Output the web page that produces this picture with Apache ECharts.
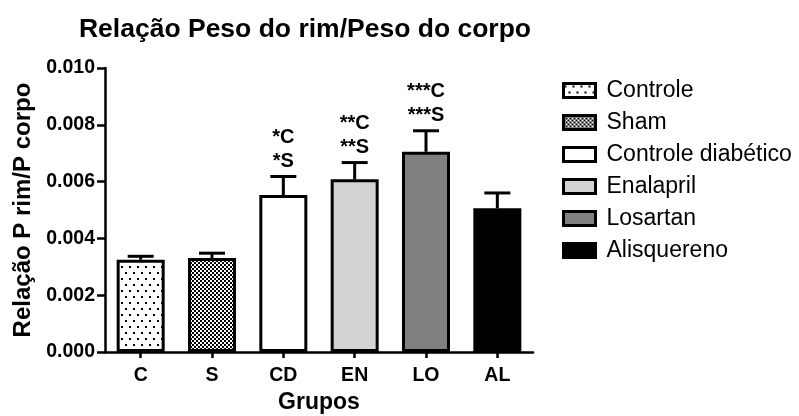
<!DOCTYPE html>
<html>
<head>
<meta charset="utf-8">
<script src="https://cdn.jsdelivr.net/npm/echarts@6/dist/echarts.min.js"></script>
<style>html,body{margin:0;padding:0;background:#fff}#c{width:799px;height:416px}</style>
</head>
<body>
<div id="c"></div>
<script>
var categories = ['C', 'S', 'CD', 'EN', 'LO', 'AL'];
var groupNames = ['Controle', 'Sham', 'Controle diabético', 'Enalapril', 'Losartan', 'Alisquereno'];
var means = [0.00325, 0.00331, 0.00553, 0.00608, 0.00705, 0.00506];
var errors = [0.00012, 0.00017, 0.00065, 0.00059, 0.00074, 0.00054];
var annotTop = ['', '', '*C', '**C', '***C', ''];
var annotBottom = ['', '', '*S', '**S', '***S', ''];
var yTicks = [0, 0.002, 0.004, 0.006, 0.008, 0.010];

var FONT = "'Liberation Sans', Arial, Helvetica, sans-serif";

function dotPattern() {
  var c = document.createElement('canvas');
  c.width = 8; c.height = 12;
  var g = c.getContext('2d');
  g.fillStyle = '#fff'; g.fillRect(0, 0, 8, 12);
  g.fillStyle = '#000';
  g.fillRect(1, 2, 2, 2);
  g.fillRect(5, 8, 2, 2);
  return c;
}
function checkPattern() {
  var c = document.createElement('canvas');
  c.width = 4; c.height = 4;
  var g = c.getContext('2d');
  g.fillStyle = '#fff'; g.fillRect(0, 0, 4, 4);
  g.fillStyle = '#000';
  g.fillRect(0, 0, 2, 2);
  g.fillRect(2, 2, 2, 2);
  return c;
}
var fills = [
  {image: dotPattern(), repeat: 'repeat'},
  {image: checkPattern(), repeat: 'repeat'},
  '#ffffff', '#d3d3d3', '#808080', '#000000'
];

var barSeries = categories.map(function (cat, i) {
  var d = categories.map(function (_, j) { return j === i ? means[j] : '-'; });
  return {
    name: groupNames[i],
    type: 'bar',
    data: d,
    barWidth: 48,
    barGap: '-100%',
    z: 3,
    itemStyle: {color: fills[i], borderColor: '#000', borderWidth: 3},
    emphasis: {disabled: true},
    animation: false
  };
});

var errData = categories.map(function (_, i) { return [i, means[i], errors[i]]; });

var errSeries = {
  type: 'custom',
  z: 2,
  data: errData,
  animation: false,
  renderItem: function (params, api) {
    var x = api.value(0), v = api.value(1), e = api.value(2);
    var base = api.coord([x, v]);
    var top = api.coord([x, v + e]);
    var i = params.dataIndex;
    var ch = [
      {type: 'line', shape: {x1: top[0], y1: base[1], x2: top[0], y2: top[1]}, style: {stroke: '#000', lineWidth: 3}},
      {type: 'line', shape: {x1: top[0] - 13, y1: top[1], x2: top[0] + 13, y2: top[1]}, style: {stroke: '#000', lineWidth: 3}}
    ];
    if (annotBottom[i]) {
      ch.push({type: 'text', style: {text: annotBottom[i], x: top[0], y: top[1] - 15, align: 'center', verticalAlign: 'middle', fontSize: 20, fontWeight: 'bold', fontFamily: FONT, fill: '#000'}});
    }
    if (annotTop[i]) {
      ch.push({type: 'text', style: {text: annotTop[i], x: top[0], y: top[1] - 39, align: 'center', verticalAlign: 'middle', fontSize: 20, fontWeight: 'bold', fontFamily: FONT, fill: '#000'}});
    }
    return {type: 'group', children: ch};
  }
};

var chart = echarts.init(document.getElementById('c'), null, {renderer: 'canvas'});
chart.setOption({
  backgroundColor: '#fff',
  animation: false,
  textStyle: {fontFamily: FONT},
  title: {
    text: 'Relação Peso do rim/Peso do corpo',
    left: 300, top: 11, textAlign: 'center',
    textStyle: {fontSize: 26.5, fontWeight: 'bold', color: '#000', fontFamily: FONT}
  },
  legend: {
    orient: 'vertical',
    left: 557, top: 74,
    icon: 'rect',
    itemWidth: 32, itemHeight: 14,
    itemGap: 9,
    selectedMode: false,
    data: groupNames,
    itemStyle: {borderColor: '#000', borderWidth: 3},
    textStyle: {fontSize: 23, color: '#000', fontFamily: FONT, padding: [0, 0, 0, 6]}
  },
  grid: {left: 105, top: 68, width: 428, height: 284, containLabel: false, outerBoundsMode: 'none'},
  xAxis: {
    type: 'category',
    data: categories,
    name: 'Grupos',
    nameLocation: 'middle',
    nameGap: 38,
    nameTextStyle: {fontSize: 23, fontWeight: 'bold', color: '#000', fontFamily: FONT},
    axisLine: {lineStyle: {color: '#000', width: 2.5}},
    axisTick: {show: true, alignWithLabel: true, length: 6, lineStyle: {color: '#000', width: 2.5}},
    axisLabel: {fontSize: 19.5, fontWeight: 'bold', color: '#000', margin: 14, fontFamily: FONT},
    splitLine: {show: false}
  },
  yAxis: {
    type: 'value',
    min: 0, max: 0.010, interval: 0.002,
    name: 'Relação P rim/P corpo',
    nameLocation: 'middle',
    nameGap: 66,
    nameRotate: 90,
    nameTextStyle: {fontSize: 24, fontWeight: 'bold', color: '#000', fontFamily: FONT},
    axisLine: {show: true, lineStyle: {color: '#000', width: 2.5}},
    axisTick: {show: true, length: 8, lineStyle: {color: '#000', width: 2.5}},
    axisLabel: {fontSize: 19.5, fontWeight: 'bold', color: '#000', margin: 10, fontFamily: FONT,
      formatter: function (v) { return v.toFixed(3); }},
    splitLine: {show: false}
  },
  series: barSeries.concat([errSeries])
});
</script>
</body>
</html>
